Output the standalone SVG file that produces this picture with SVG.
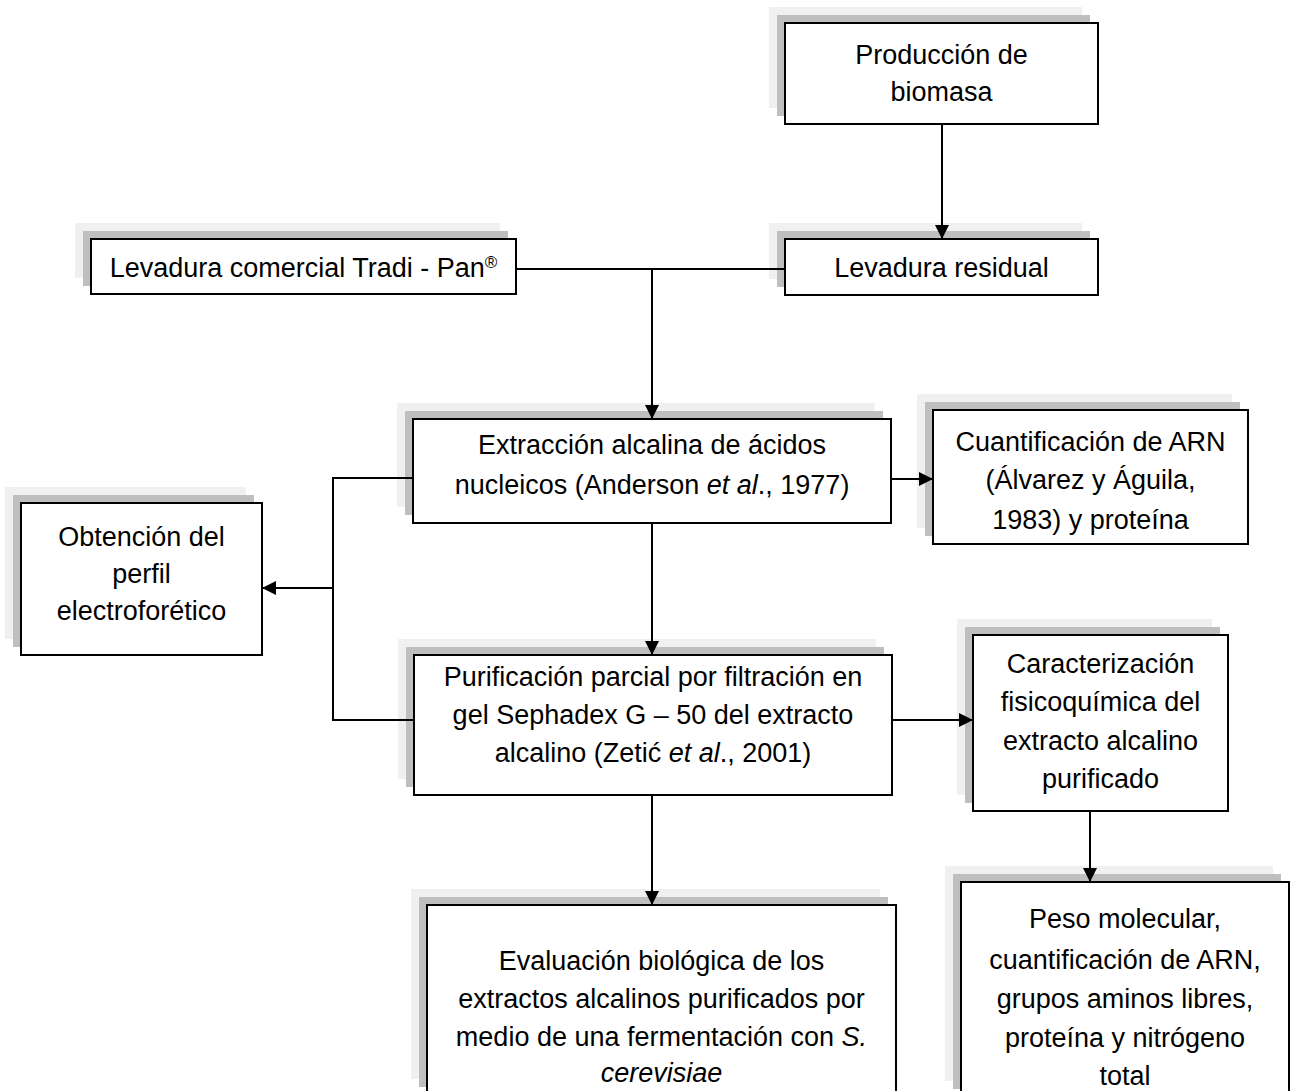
<svg xmlns="http://www.w3.org/2000/svg" width="1311" height="1091" viewBox="0 0 1311 1091">
<style>
.s1{fill:#f0f0f0}
.s2{fill:#bfbfbf}
.box{fill:#fff;stroke:#000;stroke-width:2}
text{font-family:"Liberation Sans",Arial,sans-serif;font-size:27px;fill:#000;text-anchor:middle}
.it{font-style:italic}
.c{fill:none;stroke:#000;stroke-width:2}
</style>
<defs>
<marker id="ah" markerUnits="userSpaceOnUse" markerWidth="16" markerHeight="16" refX="14" refY="7" orient="auto">
<path d="M0,0 L14,7 L0,14 z" fill="#000"/>
</marker>
</defs>
<rect width="1311" height="1091" fill="#fff"/>
<g id="n1">
<rect class="s1" x="769" y="7" width="313" height="101"/>
<rect class="s2" x="777" y="15" width="313" height="101"/>
<rect class="box" x="785" y="23" width="313" height="101"/>
<text x="941.5" y="64">Producción de</text>
<text x="941.5" y="101">biomasa</text>
</g>
<g id="n2">
<rect class="s1" x="75" y="223" width="425" height="55"/>
<rect class="s2" x="83" y="231" width="425" height="55"/>
<rect class="box" x="91" y="239" width="425" height="55"/>
<text x="303.5" y="277">Levadura comercial Tradi - Pan<tspan font-size="17" baseline-shift="super">®</tspan></text>
</g>
<g id="n3">
<rect class="s1" x="769" y="223" width="313" height="56"/>
<rect class="s2" x="777" y="231" width="313" height="56"/>
<rect class="box" x="785" y="239" width="313" height="56"/>
<text x="941.5" y="277">Levadura residual</text>
</g>
<g id="n4">
<rect class="s1" x="397" y="403" width="478" height="104"/>
<rect class="s2" x="405" y="411" width="478" height="104"/>
<rect class="box" x="413" y="419" width="478" height="104"/>
<text x="652" y="454">Extracción alcalina de ácidos</text>
<text x="652" y="494">nucleicos (Anderson <tspan class="it">et al</tspan>., 1977)</text>
</g>
<g id="n5">
<rect class="s1" x="917" y="394" width="315" height="134"/>
<rect class="s2" x="925" y="402" width="315" height="134"/>
<rect class="box" x="933" y="410" width="315" height="134"/>
<text x="1090.5" y="451">Cuantificación de ARN</text>
<text x="1090.5" y="489">(Álvarez y Águila,</text>
<text x="1090.5" y="529">1983)  y proteína</text>
</g>
<g id="n6">
<rect class="s1" x="5" y="487" width="241" height="152"/>
<rect class="s2" x="13" y="495" width="241" height="152"/>
<rect class="box" x="21" y="503" width="241" height="152"/>
<text x="141.5" y="546">Obtención del</text>
<text x="141.5" y="583">perfil</text>
<text x="141.5" y="620">electroforético</text>
</g>
<g id="n7">
<rect class="s1" x="398" y="639" width="478" height="140"/>
<rect class="s2" x="406" y="647" width="478" height="140"/>
<rect class="box" x="414" y="655" width="478" height="140"/>
<text x="653" y="686">Purificación parcial por filtración en</text>
<text x="653" y="724">gel Sephadex G – 50 del extracto</text>
<text x="653" y="762">alcalino (Zetić <tspan class="it">et al</tspan>., 2001)</text>
</g>
<g id="n8">
<rect class="s1" x="957" y="619" width="255" height="176"/>
<rect class="s2" x="965" y="627" width="255" height="176"/>
<rect class="box" x="973" y="635" width="255" height="176"/>
<text x="1100.5" y="673">Caracterización</text>
<text x="1100.5" y="711">fisicoquímica del</text>
<text x="1100.5" y="750">extracto alcalino</text>
<text x="1100.5" y="788">purificado</text>
</g>
<g id="n9">
<rect class="s1" x="411" y="889" width="469" height="190"/>
<rect class="s2" x="419" y="897" width="469" height="190"/>
<rect class="box" x="427" y="905" width="469" height="190"/>
<text x="661.5" y="970">Evaluación biológica de los</text>
<text x="661.5" y="1008">extractos alcalinos purificados por</text>
<text x="661.5" y="1046">medio de una fermentación con <tspan class="it">S.</tspan></text>
<text x="661.5" y="1082" class="it">cerevisiae</text>
</g>
<g id="n10">
<rect class="s1" x="945" y="866" width="328" height="215"/>
<rect class="s2" x="953" y="874" width="328" height="215"/>
<rect class="box" x="961" y="882" width="328" height="215"/>
<text x="1125" y="928">Peso molecular,</text>
<text x="1125" y="969">cuantificación de ARN,</text>
<text x="1125" y="1008">grupos aminos libres,</text>
<text x="1125" y="1047">proteína y nitrógeno</text>
<text x="1125" y="1085">total</text>
</g>
<g id="connectors">
<line class="c" x1="942" y1="124" x2="942" y2="239" marker-end="url(#ah)"/>
<line class="c" x1="516" y1="269" x2="785" y2="269"/>
<line class="c" x1="652" y1="269" x2="652" y2="419" marker-end="url(#ah)"/>
<line class="c" x1="652" y1="523" x2="652" y2="655" marker-end="url(#ah)"/>
<line class="c" x1="891" y1="479" x2="933" y2="479" marker-end="url(#ah)"/>
<polyline class="c" points="413,478 333,478 333,720 414,720"/>
<line class="c" x1="333" y1="588" x2="262" y2="588" marker-end="url(#ah)"/>
<line class="c" x1="892" y1="720" x2="973" y2="720" marker-end="url(#ah)"/>
<line class="c" x1="1090" y1="811" x2="1090" y2="882" marker-end="url(#ah)"/>
<line class="c" x1="652" y1="795" x2="652" y2="905" marker-end="url(#ah)"/>
</g>
</svg>
